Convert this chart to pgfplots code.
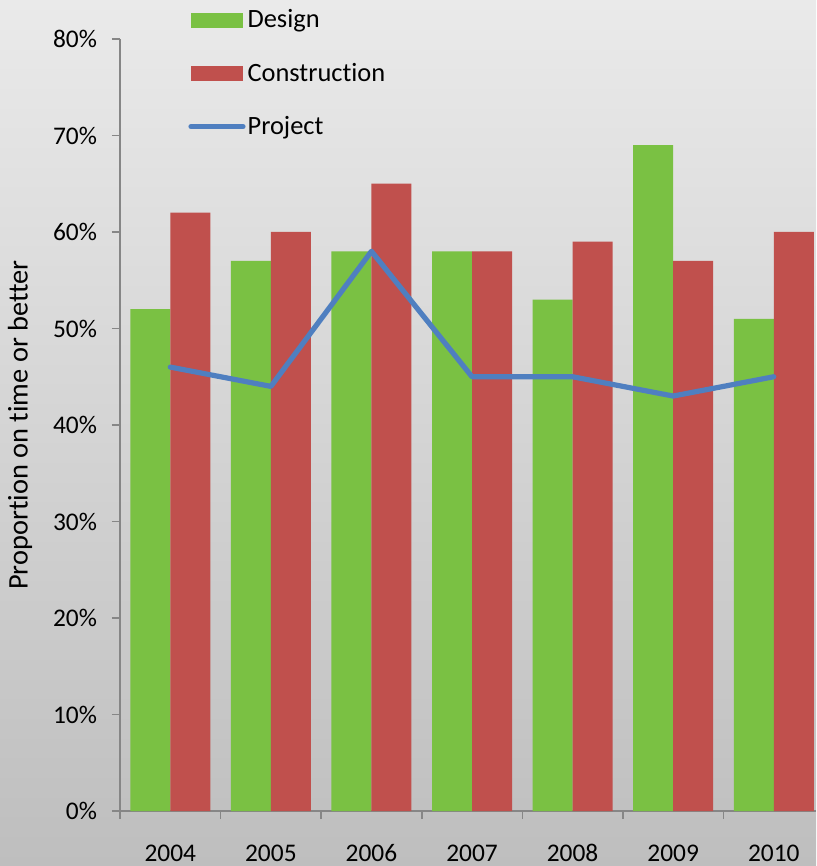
\documentclass[border=0pt]{standalone}
\usepackage{pgfplots}
\pgfplotsset{compat=1.18}
\usepackage{fontspec}
\setmainfont{Carlito}[Ligatures=NoCommon]
\definecolor{dgreen}{HTML}{7AC143}
\definecolor{cred}{HTML}{C0504D}
\definecolor{pblue}{HTML}{4F7FC0}
\definecolor{axgray}{HTML}{868686}
\begin{document}
\begin{tikzpicture}
\shade[top color={rgb,255:red,234;green,234;blue,234}, bottom color={rgb,255:red,190;green,190;blue,190}] (-60pt,-27.5pt) rectangle (348pt,405.5pt);
\useasboundingbox (-60pt,-27.5pt) rectangle (348pt,405.5pt);
\begin{axis}[
  at={(0,0)}, anchor=south west,
  scale only axis, width=348pt, height=386pt,
  ybar=0pt, bar width=20pt,
  xmin=-0.5, xmax=6.42, ymin=0, ymax=80,
  axis x line*=bottom, axis y line*=left,
  axis line style={axgray, line width=0.8pt},
  xtick={0,...,6}, xticklabels={2004,2005,2006,2007,2008,2009,2010},
  major x tick style={draw=none},
  minor xtick={-0.5,0.5,...,5.5},
  minor x tick style={axgray, line width=0.8pt},
  ytick={0,10,...,80},
  y tick style={axgray, line width=0.8pt},
  tick align=outside, major tick length=4pt, minor tick length=4pt,
  /pgf/number format/assume math mode=true,
  yticklabel={\pgfmathprintnumber{\tick}\%},
  tick label style={font=\fontsize{12.7}{15}\selectfont, black},
  yticklabel style={xshift=-4pt},
  xticklabel style={anchor=north, text height=9pt, text depth=2pt, yshift=-8.5pt},
  ylabel={Proportion on time or better},
  ylabel style={at={(axis description cs:-0.1437,0.5)}, rotate=0, anchor=center, font=\fontsize{14.2}{16}\selectfont},
  legend style={at={(axis description cs:0.0977,1.041)}, anchor=north west, draw=none, fill=none,
    font=\fontsize{13.2}{15}\selectfont, row sep=14pt, inner sep=0pt,
    nodes={inner sep=1pt}},
  legend cell align=left,
  clip=false,
]
\addplot[fill=dgreen, draw=none, legend image code/.code={\fill[dgreen] (0pt,-3.75pt) rectangle (26pt,3.75pt);}]
 coordinates {(0,52) (1,57) (2,58) (3,58) (4,53) (5,69) (6,51)};
\addlegendentry{Design}
\addplot[fill=cred, draw=none, legend image code/.code={\fill[cred] (0pt,-3.75pt) rectangle (26pt,3.75pt);}]
 coordinates {(0,62) (1,60) (2,65) (3,58) (4,59) (5,57) (6,60)};
\addlegendentry{Construction}
\addplot[sharp plot, pblue, line width=2.6pt, line cap=round, line join=round, mark=none, bar shift=0pt,
  legend image code/.code={\draw[pblue, line width=2.6pt, line cap=round] (0pt,0pt) -- (26pt,0pt);}]
 coordinates {(0,46) (1,44) (2,58) (3,45) (4,45) (5,43) (6,45)};
\addlegendentry{Project}
\end{axis}
\end{tikzpicture}
\end{document}
